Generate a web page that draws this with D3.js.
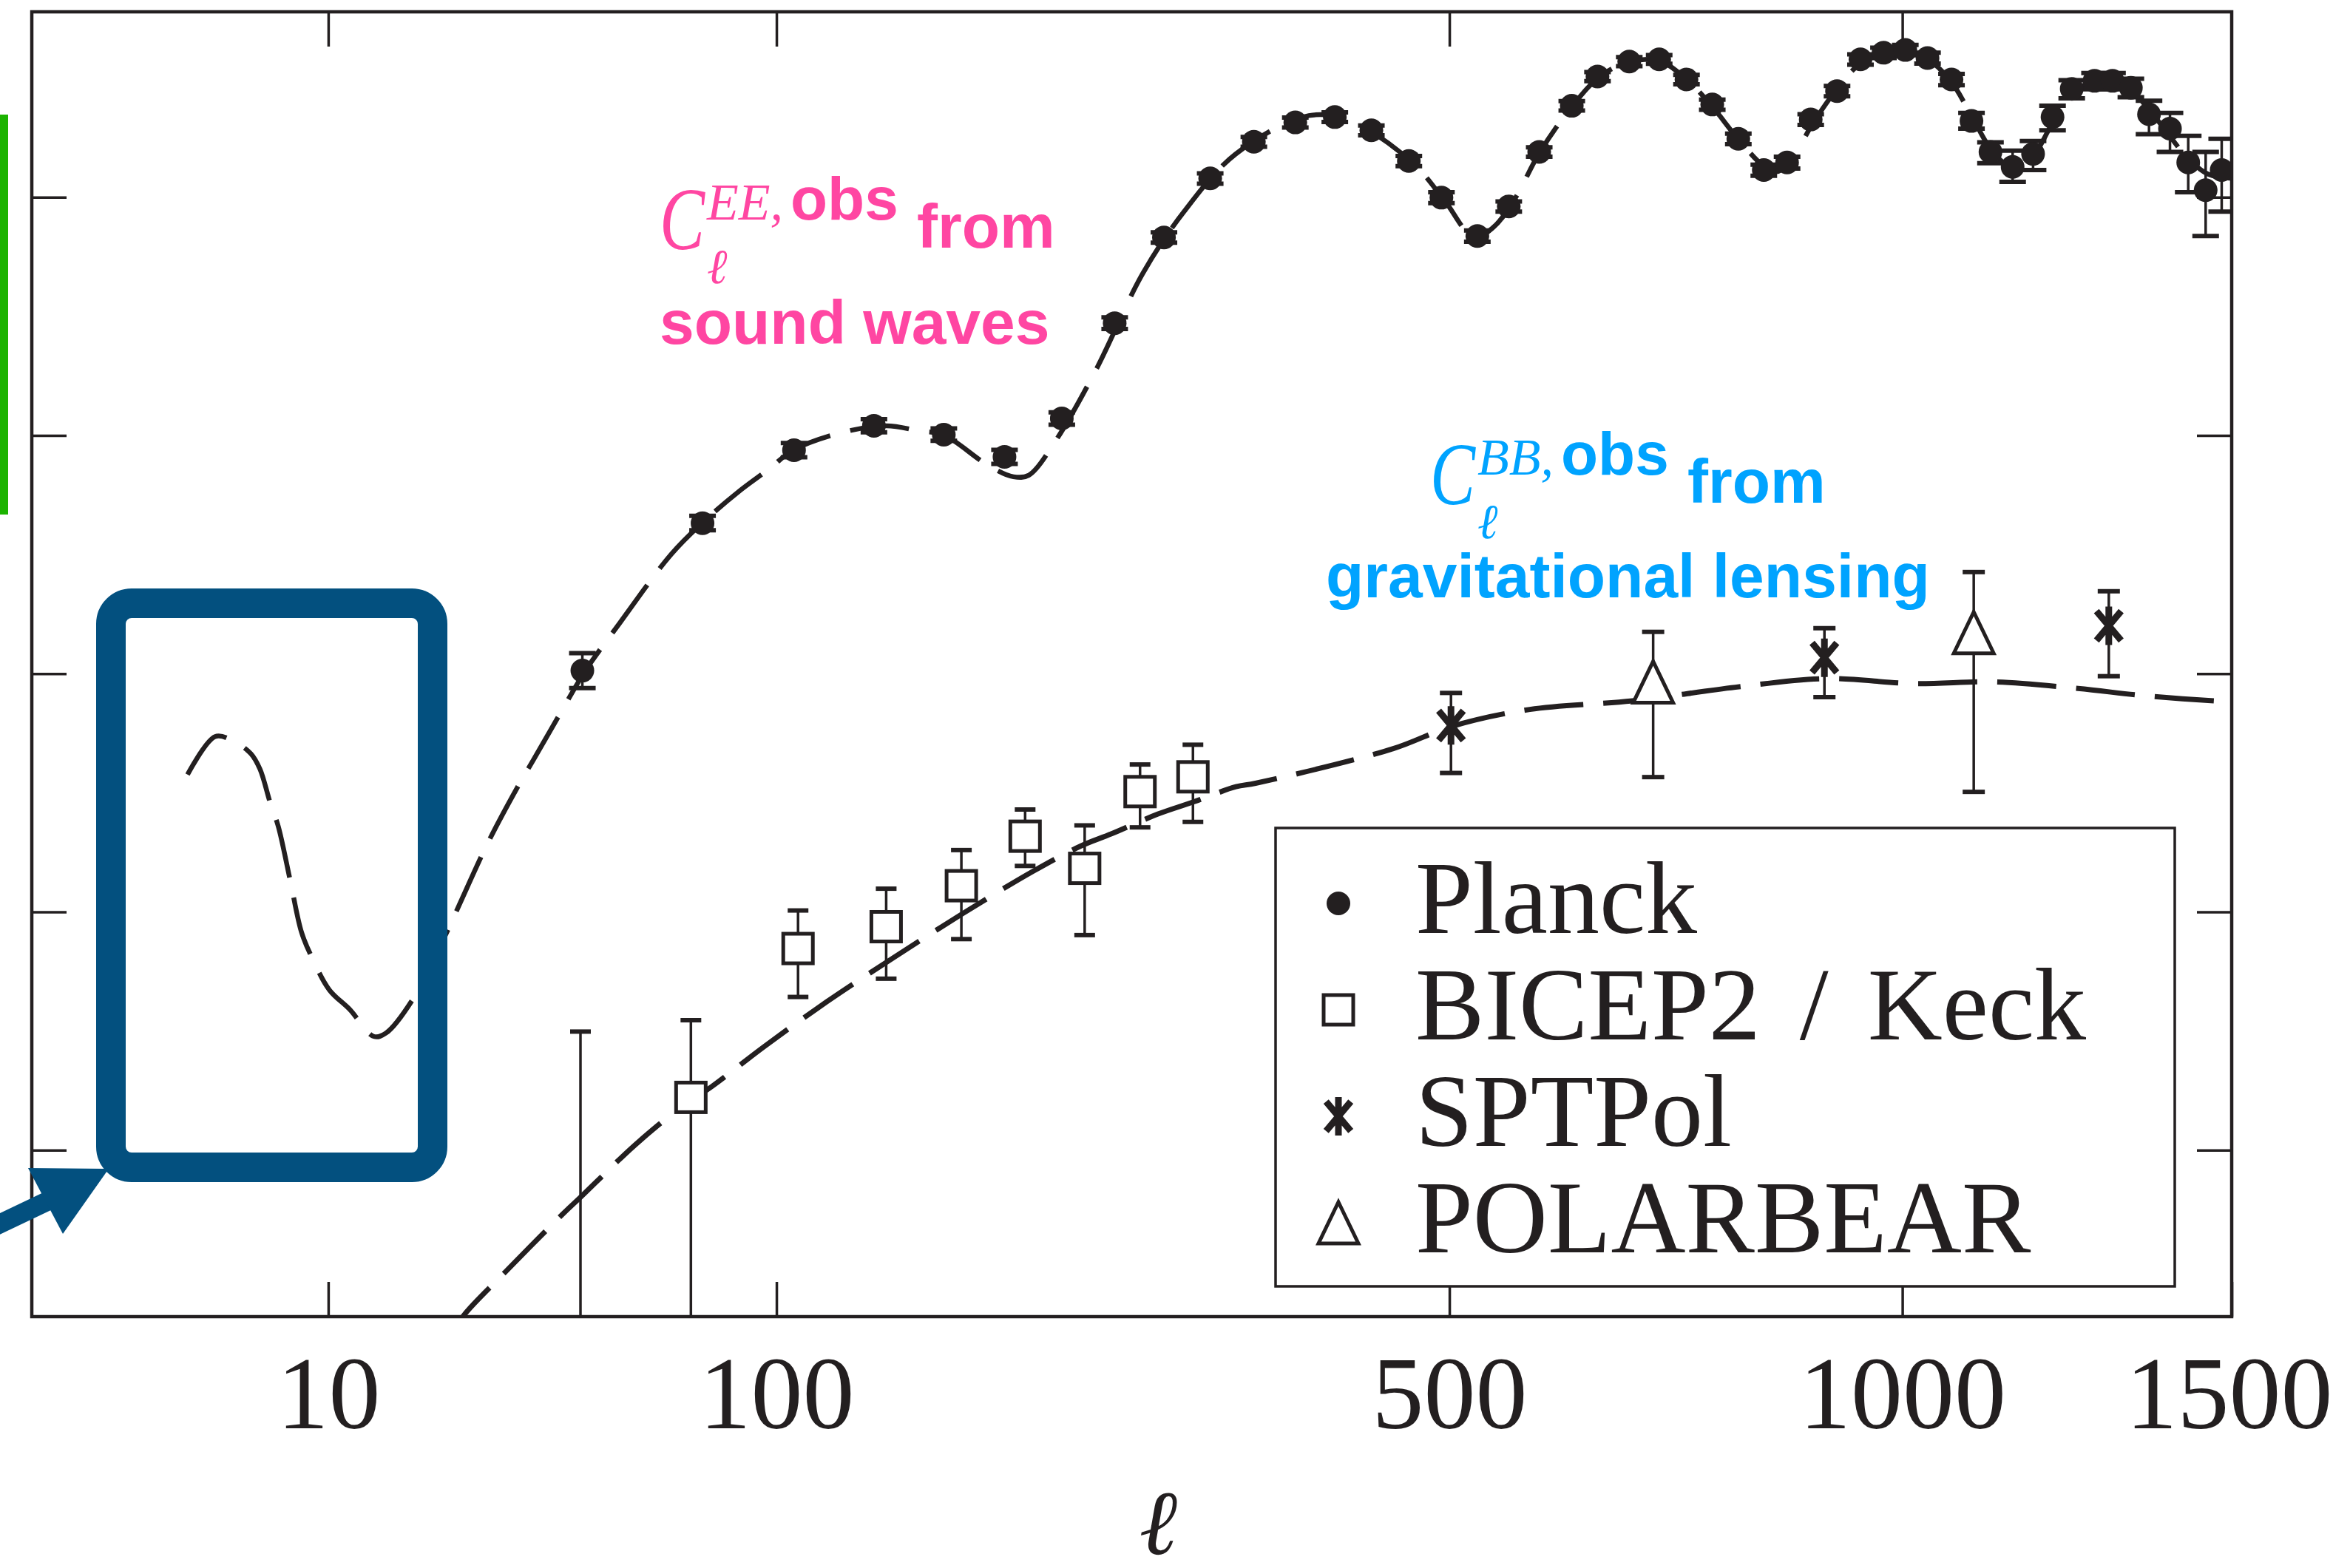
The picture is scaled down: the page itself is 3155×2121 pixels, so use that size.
<!DOCTYPE html>
<html>
<head>
<meta charset="utf-8">
<script src="https://cdn.jsdelivr.net/npm/d3@7"></script>
<style>
  body { margin: 0; background: #fff; }
</style>
</head>
<body>
<div id="chart"></div>
<script>
const width = 3155, height = 2121;
const plot = { left: 43, right: 3018, top: 16, bottom: 1781 };
const ink = "#231f20";

// axis ticks
const xTicks = [10, 100, 500, 1000, 1500];
const yTicks = [1e-3, 1e-2, 1e-1, 1, 10];

// EE model curve (ell, D_ell)
const eeEll = [2.0, 3.0, 3.7, 4.7, 5.2, 5.8, 6.3, 7.1, 7.9, 8.7, 10.1, 11.9, 14.3, 15.6, 19.1, 23.0, 24.9, 29.4, 34.3, 37.3,
  42.8, 47.7, 55.3, 68.3, 76.8, 87.8, 97.7, 105.7, 123.5, 141.1, 155.2, 165.7, 186.6, 199.5, 207.4, 221.2, 244.2, 271.8,
  297.8, 332.3, 385.1, 417.0, 467.8, 495, 522, 540, 560, 583, 615, 645, 675, 705, 735, 765, 795, 825, 840, 855, 885, 915,
  945, 975, 1004, 1034, 1065, 1095, 1122, 1150, 1180, 1213, 1242, 1277, 1305, 1334, 1365, 1397, 1427, 1460, 1500];
const eeD = [0.0377, 0.0544, 0.0528, 0.0461, 0.0397, 0.0287, 0.0229, 0.0135, 0.0082, 0.0064, 0.0047, 0.0039, 0.0030, 0.0031,
  0.0045, 0.0080, 0.0106, 0.0196, 0.0332, 0.0437, 0.0703, 0.1033, 0.1623, 0.317, 0.428, 0.581, 0.726, 0.867, 1.029, 1.098,
  1.044, 1.007, 0.752, 0.671, 0.681, 0.938, 1.889, 4.775, 8.70, 15.18, 22.0, 20.9, 14.0, 9.8, 6.8, 7.5, 9.9, 15.3, 24.0,
  32.5, 37.0, 37.5, 31.5, 24.0, 17.5, 13.5, 12.8, 13.8, 20.5, 28.5, 36.5, 40.5, 41.0, 38.0, 31.0, 22.0, 16.0, 13.5, 14.5,
  20.5, 27.5, 30.5, 30.5, 28.0, 23.0, 18.0, 14.5, 12.5, 12.0];

// BB lensing model curve
const bbEll = [24, 25.6, 32.3, 42.8, 46.6, 59.0, 69.7, 79.9, 96.0, 117.7, 144.2, 174.1, 210.0, 235.4, 253.2, 281.3, 304.6,
  332.5, 346.2, 451.5, 501.4, 573.9, 677.4, 791.5, 899.1, 1015.0, 1129.5, 1251.5, 1359.0, 1500];
const bbD = [0.00017, 0.000202, 0.000309, 0.000536, 0.000634, 0.001049, 0.001463, 0.001859, 0.002725, 0.004191, 0.006439,
  0.009763, 0.014868, 0.018888, 0.021281, 0.025760, 0.029040, 0.033520, 0.034665, 0.048375, 0.059949, 0.070786, 0.076942,
  0.087700, 0.095322, 0.090873, 0.092371, 0.086635, 0.080650, 0.0760];

// Planck EE
const planckEll = [47, 77, 106, 136, 166, 195, 225, 255, 285, 315, 345, 375, 405, 434, 465, 493, 525, 554, 583, 615, 641,
  674, 706, 736, 765, 795, 825, 853, 882, 915, 945, 975, 1004, 1034, 1067, 1095, 1122, 1154, 1184, 1213, 1242, 1277, 1305,
  1334, 1363, 1397, 1427, 1456, 1483];
const planckD = [0.103, 0.428, 0.867, 1.098, 1.007, 0.813, 1.179, 2.96, 6.78, 12.0, 17.1, 20.6, 21.7, 19.1, 14.2, 9.96,
  6.87, 9.15, 15.5, 24.2, 32.1, 37.1, 37.9, 31.2, 24.5, 17.6, 13.0, 14.0, 21.2, 27.9, 37.9, 40.4, 41.5, 38.4, 31.2, 20.9,
  15.5, 13.4, 15.2, 21.7, 28.5, 30.8, 30.8, 28.8, 22.3, 19.4, 14.0, 10.7, 13.0];
const planckLo = [0.087, 0.40, 0.81, 1.03, 0.95, 0.76, 1.11, 2.80, 6.45, 11.4, 16.3, 19.6, 20.7, 18.2, 13.5, 9.45, 6.50,
  8.70, 14.8, 23.1, 30.7, 35.5, 36.3, 29.8, 23.3, 16.7, 12.3, 13.2, 20.1, 26.5, 36.0, 38.4, 39.4, 36.4, 29.5, 19.4, 13.9,
  11.6, 13.0, 19.1, 26.0, 28.4, 28.4, 26.3, 18.4, 15.5, 10.5, 6.87, 8.7];
const planckHi = [0.122, 0.46, 0.93, 1.17, 1.07, 0.87, 1.25, 3.13, 7.12, 12.6, 17.9, 21.6, 22.7, 20.0, 14.9, 10.5, 7.25,
  9.60, 16.2, 25.3, 33.5, 38.7, 39.5, 32.6, 25.7, 18.5, 13.7, 14.8, 22.3, 29.3, 39.8, 42.4, 43.6, 40.4, 32.9, 22.6, 17.0,
  15.7, 17.2, 24.2, 31.0, 33.2, 33.2, 31.4, 25.4, 22.6, 18.1, 15.5, 17.6];

// BICEP2 / Keck BB (first point lies below the plotted range)
const bicepEll = [46.6, 73.7, 107.4, 141.0, 174.1, 205.5, 237.7, 270.2, 303.6];
const bicepD = [1e-5, 0.001665, 0.007019, 0.008669, 0.012878, 0.020783, 0.015236, 0.031981, 0.036896];
const bicepLo = [1e-5, 1e-5, 0.004395, 0.005244, 0.007688, 0.015596, 0.007992, 0.022638, 0.023867];
const bicepHi = [0.003145, 0.003511, 0.010139, 0.012516, 0.018179, 0.026903, 0.023077, 0.041568, 0.050316];

// SPTPol BB
const sptEll = [501.4, 899.1, 1299.2];
const sptD = [0.0606, 0.1167, 0.1589];
const sptLo = [0.0383, 0.0797, 0.0976];
const sptHi = [0.0830, 0.1552, 0.2218];

// POLARBEAR BB
const pbEll = [699.5, 1098.2];
const pbD = [0.0922, 0.1487];
const pbLo = [0.0368, 0.0319];
const pbHi = [0.1498, 0.2670];

const legendNames = ["Planck", "BICEP2 / Keck", "SPTPol", "POLARBEAR"];

const svg = d3.select("#chart").append("svg")
  .attr("width", width)
  .attr("height", height)
  .style("display", "block")
  .style("background", "#fff");

const x = d3.scalePow().exponent(0.4).domain([0, 1500]).range([plot.left, plot.right]);
const y = d3.scaleLog().domain([2e-4, 60]).range([plot.bottom, plot.top]);

svg.append("clipPath").attr("id", "plot-clip")
  .append("rect")
  .attr("x", plot.left).attr("y", plot.top)
  .attr("width", plot.right - plot.left).attr("height", plot.bottom - plot.top);

// axes: ticks on all four sides, pointing inward
function styleAxis(g) {
  g.select(".domain").remove();
  g.selectAll(".tick line").attr("stroke", ink).attr("stroke-width", 3.5);
  g.selectAll(".tick text")
    .attr("fill", ink)
    .attr("font-family", "'Liberation Serif', 'DejaVu Serif', serif")
    .attr("font-size", 140);
}

svg.append("g")
  .attr("transform", `translate(0,${plot.bottom})`)
  .call(d3.axisBottom(x).tickValues(xTicks).tickSize(-47).tickPadding(52).tickFormat(d3.format("d")))
  .call(styleAxis)
  .call(g => g.selectAll(".tick text").filter(d => d === 1500).attr("dx", -4));
svg.append("g")
  .attr("transform", `translate(0,${plot.top})`)
  .call(d3.axisTop(x).tickValues(xTicks.slice(0, 4)).tickSize(-47).tickFormat(""))
  .call(styleAxis);
svg.append("g")
  .attr("transform", `translate(${plot.left},0)`)
  .call(d3.axisLeft(y).tickValues(yTicks).tickSize(-47).tickFormat(""))
  .call(styleAxis);
svg.append("g")
  .attr("transform", `translate(${plot.right},0)`)
  .call(d3.axisRight(y).tickValues(yTicks).tickSize(-47).tickFormat(""))
  .call(styleAxis);

svg.append("rect")
  .attr("x", plot.left).attr("y", plot.top)
  .attr("width", plot.right - plot.left).attr("height", plot.bottom - plot.top)
  .attr("fill", "none").attr("stroke", ink).attr("stroke-width", 4.5);

svg.append("text")
  .attr("x", 1566).attr("y", 2102)
  .attr("text-anchor", "middle")
  .attr("font-family", "'DejaVu Serif', serif")
  .attr("font-style", "italic")
  .attr("font-size", 124)
  .attr("fill", ink)
  .text("ℓ");

const plotArea = svg.append("g").attr("clip-path", "url(#plot-clip)");

// model curves
const line = d3.line()
  .x(d => x(d[0]))
  .y(d => y(d[1]))
  .curve(d3.curveCatmullRom.alpha(0.5));

plotArea.append("path")
  .datum(d3.zip(eeEll, eeD))
  .attr("d", line)
  .attr("fill", "none").attr("stroke", ink)
  .attr("stroke-width", 6.5).attr("stroke-dasharray", "80,28");

plotArea.append("path")
  .datum(d3.zip(bbEll, bbD))
  .attr("d", line)
  .attr("fill", "none").attr("stroke", ink)
  .attr("stroke-width", 7).attr("stroke-dasharray", "80,27");

// error bars
function errorBars(ells, lo, hi, capW) {
  const g = plotArea.append("g").attr("stroke", ink).attr("stroke-width", 3.5);
  const data = d3.zip(ells, lo, hi);
  g.selectAll(".bar").data(data).enter().append("line")
    .attr("x1", d => x(d[0])).attr("x2", d => x(d[0]))
    .attr("y1", d => y(d[1])).attr("y2", d => y(d[2]));
  g.selectAll(".capLo").data(data).enter().append("line")
    .attr("stroke-width", 6)
    .attr("x1", d => x(d[0]) - capW / 2).attr("x2", d => x(d[0]) + capW / 2)
    .attr("y1", d => y(d[1])).attr("y2", d => y(d[1]));
  g.selectAll(".capHi").data(data).enter().append("line")
    .attr("stroke-width", 6)
    .attr("x1", d => x(d[0]) - capW / 2).attr("x2", d => x(d[0]) + capW / 2)
    .attr("y1", d => y(d[2])).attr("y2", d => y(d[2]));
}

// marker shapes
function drawMarker(g, type, cx, cy) {
  if (type === "dot") {
    g.append("circle").attr("cx", cx).attr("cy", cy).attr("r", 16).attr("fill", ink);
  } else if (type === "square") {
    g.append("rect").attr("x", cx - 20).attr("y", cy - 20).attr("width", 40).attr("height", 40)
      .attr("fill", "#fff").attr("stroke", ink).attr("stroke-width", 5);
  } else if (type === "star") {
    const a = 26;
    const p = [90, 50, 130].map(deg => {
      const r = deg * Math.PI / 180;
      return `M${cx - a * Math.cos(r)},${cy - a * Math.sin(r)}L${cx + a * Math.cos(r)},${cy + a * Math.sin(r)}`;
    }).join("");
    g.append("path").attr("d", p).attr("stroke", ink).attr("stroke-width", 9).attr("fill", "none");
  } else if (type === "triangle") {
    g.append("path")
      .attr("d", `M${cx},${cy - 28}L${cx + 27},${cy + 28}L${cx - 27},${cy + 28}Z`)
      .attr("fill", "#fff").attr("stroke", ink).attr("stroke-width", 5).attr("stroke-linejoin", "miter");
  }
}

function markers(ells, vals, type) {
  const g = plotArea.append("g");
  d3.zip(ells, vals).forEach(d => drawMarker(g, type, x(d[0]), y(d[1])));
}

errorBars(planckEll, planckLo, planckHi, 36);
markers(planckEll, planckD, "dot");

errorBars(bicepEll, bicepLo, bicepHi, 28);
markers(bicepEll, bicepD, "square");

errorBars(sptEll, sptLo, sptHi, 30);
markers(sptEll, sptD, "star");

errorBars(pbEll, pbLo, pbHi, 30);
markers(pbEll, pbD, "triangle");

// legend
const legend = svg.append("g");
legend.append("rect")
  .attr("x", 1725).attr("y", 1120).attr("width", 1216).attr("height", 620)
  .attr("fill", "#fff").attr("stroke", ink).attr("stroke-width", 3.5);
const legendTypes = ["dot", "square", "star", "triangle"];
legendNames.forEach((name, i) => {
  const base = 1262 + i * 144;
  drawMarker(legend, legendTypes[i], 1810, base - 40);
  legend.append("text")
    .attr("x", 1914).attr("y", base)
    .attr("font-family", "'Liberation Serif', 'DejaVu Serif', serif")
    .attr("font-size", 140)
    .attr("word-spacing", 18)
    .attr("fill", ink)
    .text(name);
});

// annotations
function annotation(opts) {
  const g = svg.append("g").attr("fill", opts.color);
  const serif = "'Liberation Serif', 'DejaVu Serif', serif";
  const sans = "'Liberation Sans', Arial, sans-serif";
  g.append("text")
    .attr("transform", `translate(${opts.x},${opts.base + 2}) scale(0.88,1.16)`)
    .attr("font-family", serif).attr("font-style", "italic").attr("font-size", 104).text("C");
  g.append("text").attr("x", opts.x + 64).attr("y", opts.base - 38)
    .attr("font-family", serif).attr("font-style", "italic").attr("font-size", 70).text(opts.sup);
  g.append("text").attr("x", opts.x + 64).attr("y", opts.base + 48)
    .attr("font-family", "'DejaVu Serif', serif").attr("font-style", "italic").attr("font-size", 66).text("ℓ");
  g.append("text").attr("x", opts.x + 177).attr("y", opts.base - 38)
    .attr("font-family", sans).attr("font-weight", "bold").attr("font-size", 82).text("obs");
  g.append("text").attr("x", opts.x + 348).attr("y", opts.base)
    .attr("font-family", sans).attr("font-weight", "bold").attr("font-size", 84).text("from");
  g.append("text").attr("x", opts.line2x).attr("y", opts.line2y)
    .attr("font-family", sans).attr("font-weight", "bold").attr("font-size", 84).text(opts.line2);
}

annotation({ color: "#ff46a2", x: 892, base: 335, sup: "EE,", line2: "sound waves", line2x: 892, line2y: 465 });
annotation({ color: "#00a3ff", x: 1934, base: 680, sup: "BB,", line2: "gravitational lensing", line2x: 1793, line2y: 808 });

// highlight box, arrow and side bar
svg.append("rect")
  .attr("x", 150).attr("y", 816).attr("width", 435).attr("height", 763)
  .attr("rx", 28).attr("ry", 28)
  .attr("fill", "none").attr("stroke", "#03507f").attr("stroke-width", 40);

svg.append("line")
  .attr("x1", -20).attr("y1", 1665).attr("x2", 70).attr("y2", 1622)
  .attr("stroke", "#03507f").attr("stroke-width", 26);
svg.append("path")
  .attr("d", "M147,1581L38,1580L85,1669Z")
  .attr("fill", "#03507f");

svg.append("rect")
  .attr("x", 0).attr("y", 155).attr("width", 11).attr("height", 541)
  .attr("fill", "#1cb300");
</script>
</body>
</html>
